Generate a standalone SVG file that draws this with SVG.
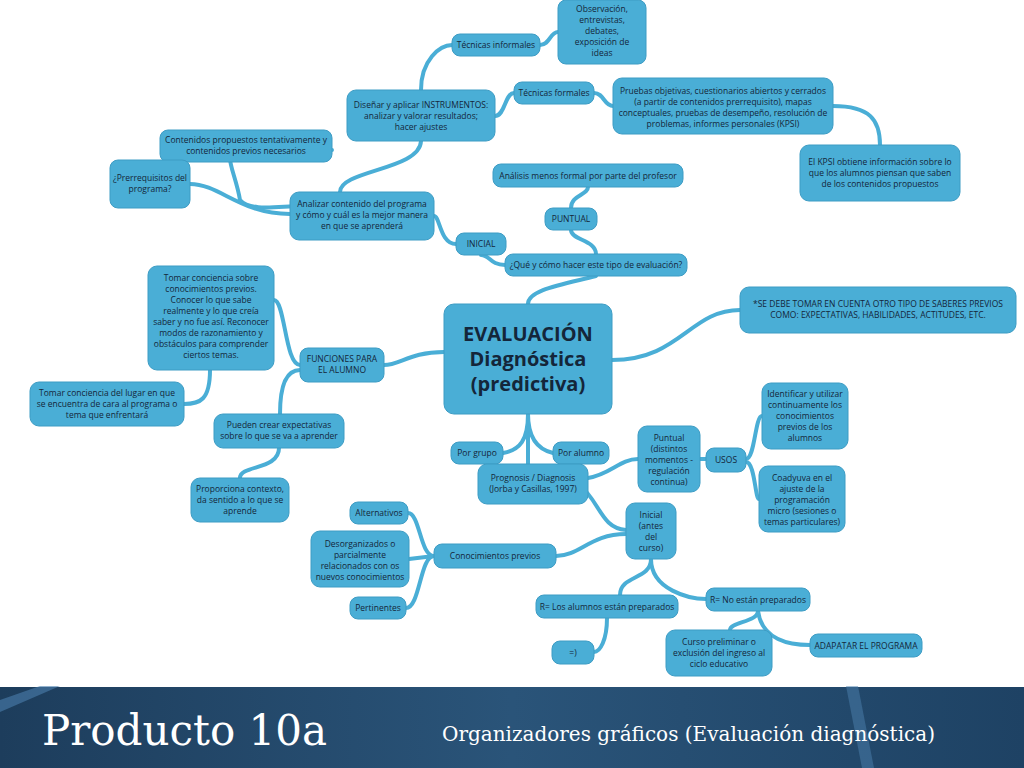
<svg xmlns="http://www.w3.org/2000/svg" width="1024" height="768" viewBox="0 0 1024 768">
<defs>
<style>
.n{fill:#4aaed6;stroke:#3d9cc4;stroke-width:1}
.t{font-family:"Open Sans","Liberation Sans",sans-serif;font-size:8.5px;fill:#14263a;text-anchor:middle}
.c path{fill:none;stroke:#4aaed6;stroke-width:4;stroke-linecap:round}
</style>
<linearGradient id="bg" x1="0" y1="0" x2="1" y2="0">
<stop offset="0" stop-color="#1d3d5c"/><stop offset="0.5" stop-color="#2a5479"/><stop offset="1" stop-color="#1e4264"/>
</linearGradient>
</defs>
<rect width="1024" height="768" fill="#ffffff"/>
<g class="c">
<path d="M444,352 C410,352 400,365 384,365"/>
<path d="M528,304 C528,290 560,285 596,276"/>
<path d="M596,254 C596,240 571,240 571,230"/>
<path d="M571,208 C571,195 588,195 588,187"/>
<path d="M505,265 C490,265 490,255 481,255"/>
<path d="M456,244 C440,244 440,216 434,216"/>
<path d="M340,192 C340,170 420,170 421,141"/>
<path d="M300,206 C280,206 250,212 240,200 C235,170 220,150 240,150 L332,150"/>
<path d="M290,214 C240,214 220,184 190,184"/>
<path d="M421,90 C421,60 440,45 452,45"/>
<path d="M540,45 C550,45 550,32 558,32"/>
<path d="M495,116 C505,116 505,93 514,93"/>
<path d="M594,93 C604,93 604,106 613,106"/>
<path d="M833,106 C870,106 880,120 880,145"/>
<path d="M612,360 C680,360 690,310 740,310"/>
<path d="M300,365 C285,365 285,300 274,300"/>
<path d="M210,370 C210,400 200,404 184,404"/>
<path d="M300,370 C285,370 280,390 280,414"/>
<path d="M279,448 C279,470 240,465 240,478"/>
<path d="M528,414 C528,440 520,450 503,453"/>
<path d="M528,414 L528,464"/>
<path d="M528,414 C528,440 540,450 553,453"/>
<path d="M588,478 C610,475 620,459 638,459"/>
<path d="M700,459 L706,459"/>
<path d="M746,459 C755,459 755,416 762,416"/>
<path d="M746,462 C755,462 755,499 759,499"/>
<path d="M578,484 C600,500 600,528 626,530"/>
<path d="M626,534 C590,534 580,556 556,556"/>
<path d="M434,556 C420,556 420,513 408,513"/>
<path d="M434,556 L409,559"/>
<path d="M434,556 C420,556 420,608 406,608"/>
<path d="M651,559 C651,580 620,575 620,595"/>
<path d="M651,559 C651,590 690,599 706,599"/>
<path d="M607,618 C607,640 600,652 594,652"/>
<path d="M758,611 C758,622 730,622 730,630"/>
<path d="M758,611 C762,640 790,645 810,645"/>
</g>
<g id="obs"><rect class="n" x="558" y="0" width="88" height="64" rx="8"/><text class="t" x="602" y="12">Observación,<tspan x="602" dy="11">entrevistas,</tspan><tspan x="602" dy="11">debates,</tspan><tspan x="602" dy="11">exposición de</tspan><tspan x="602" dy="11">ideas</tspan></text></g>
<g id="tinf"><rect class="n" x="452" y="34" width="88" height="22" rx="8"/><text class="t" x="496" y="48">Técnicas informales</text></g>
<g id="tform"><rect class="n" x="514" y="82" width="80" height="22" rx="8"/><text class="t" x="554" y="96">Técnicas formales</text></g>
<g id="pruebas"><rect class="n" x="613" y="78" width="220" height="56" rx="9"/><text class="t" x="723" y="94">Pruebas objetivas, cuestionarios abiertos y cerrados<tspan x="723" dy="11">(a partir de contenidos prerrequisito), mapas</tspan><tspan x="723" dy="11">conceptuales, pruebas de desempeño, resolución de</tspan><tspan x="723" dy="11">problemas, informes personales (KPSI)</tspan></text></g>
<g id="kpsi"><rect class="n" x="800" y="145" width="160" height="56" rx="9"/><text class="t" x="880" y="165">El KPSI obtiene información sobre lo<tspan x="880" dy="11">que los alumnos piensan que saben</tspan><tspan x="880" dy="11">de los contenidos propuestos</tspan></text></g>
<g id="instr"><rect class="n" x="347" y="90" width="148" height="51" rx="9"/><text class="t" x="421" y="108">Diseñar y aplicar INSTRUMENTOS:<tspan x="421" dy="11">analizar y valorar resultados;</tspan><tspan x="421" dy="11">hacer ajustes</tspan></text></g>
<g id="contenidos"><rect class="n" x="160" y="130" width="172" height="32" rx="8"/><text class="t" x="246" y="143">Contenidos propuestos tentativamente y<tspan x="246" dy="11">contenidos previos necesarios</tspan></text></g>
<g id="prereq"><rect class="n" x="110" y="160" width="80" height="48" rx="8"/><text class="t" x="150" y="181">¿Prerrequisitos del<tspan x="150" dy="11">programa?</tspan></text></g>
<g id="analizar"><rect class="n" x="290" y="192" width="144" height="48" rx="9"/><text class="t" x="362" y="207">Analizar contenido del programa<tspan x="362" dy="11">y cómo y cuál es la mejor manera</tspan><tspan x="362" dy="11">en que se aprenderá</tspan></text></g>
<g id="analisis"><rect class="n" x="493" y="164" width="190" height="23" rx="8"/><text class="t" x="588" y="179">Análisis menos formal por parte del profesor</text></g>
<g id="puntual"><rect class="n" x="545" y="208" width="52" height="22" rx="8"/><text class="t" x="571" y="222">PUNTUAL</text></g>
<g id="inicial"><rect class="n" x="456" y="233" width="50" height="22" rx="8"/><text class="t" x="481" y="247">INICIAL</text></g>
<g id="que"><rect class="n" x="505" y="254" width="182" height="22" rx="8"/><text class="t" x="596" y="268">¿Qué y cómo hacer este tipo de evaluación?</text></g>
<g id="eval"><rect class="n" x="444" y="304" width="168" height="110" rx="10"/><text class="t" x="528" y="341" style="font-size:20px;font-weight:bold">EVALUACIÓN<tspan x="528" dy="25">Diagnóstica</tspan><tspan x="528" dy="25">(predictiva)</tspan></text></g>
<g id="sedebe"><rect class="n" x="740" y="287" width="276" height="46" rx="9"/><text class="t" x="878" y="307">*SE DEBE TOMAR EN CUENTA OTRO TIPO DE SABERES PREVIOS<tspan x="878" dy="11">COMO: EXPECTATIVAS, HABILIDADES, ACTITUDES, ETC.</tspan></text></g>
<g id="tomar"><rect class="n" x="148" y="266" width="126" height="104" rx="9"/><text class="t" x="211" y="281">Tomar conciencia sobre<tspan x="211" dy="11">conocimientos previos.</tspan><tspan x="211" dy="11">Conocer lo que sabe</tspan><tspan x="211" dy="11">realmente y lo que creía</tspan><tspan x="211" dy="11">saber y no fue así. Reconocer</tspan><tspan x="211" dy="11">modos de razonamiento y</tspan><tspan x="211" dy="11">obstáculos para comprender</tspan><tspan x="211" dy="11">ciertos temas.</tspan></text></g>
<g id="funciones"><rect class="n" x="300" y="348" width="84" height="34" rx="8"/><text class="t" x="342" y="362">FUNCIONES PARA<tspan x="342" dy="11">EL ALUMNO</tspan></text></g>
<g id="lugar"><rect class="n" x="30" y="382" width="154" height="44" rx="9"/><text class="t" x="107" y="396">Tomar conciencia del lugar en que<tspan x="107" dy="11">se encuentra de cara al programa o</tspan><tspan x="107" dy="11">tema que enfrentará</tspan></text></g>
<g id="pueden"><rect class="n" x="214" y="414" width="130" height="34" rx="9"/><text class="t" x="279" y="428">Pueden crear expectativas<tspan x="279" dy="11">sobre lo que se va a aprender</tspan></text></g>
<g id="proporciona"><rect class="n" x="191" y="478" width="98" height="44" rx="9"/><text class="t" x="240" y="492">Proporciona contexto,<tspan x="240" dy="11">da sentido a lo que se</tspan><tspan x="240" dy="11">aprende</tspan></text></g>
<g id="porgrupo"><rect class="n" x="451" y="442" width="52" height="22" rx="8"/><text class="t" x="477" y="456">Por grupo</text></g>
<g id="poralumno"><rect class="n" x="553" y="442" width="56" height="22" rx="8"/><text class="t" x="581" y="456">Por alumno</text></g>
<g id="prognosis"><rect class="n" x="478" y="464" width="110" height="40" rx="9"/><text class="t" x="533" y="481">Prognosis / Diagnosis<tspan x="533" dy="11">(Jorba y Casillas, 1997)</tspan></text></g>
<g id="puntual2"><rect class="n" x="638" y="426" width="62" height="66" rx="9"/><text class="t" x="669" y="441">Puntual<tspan x="669" dy="11">(distintos</tspan><tspan x="669" dy="11">momentos -</tspan><tspan x="669" dy="11">regulación</tspan><tspan x="669" dy="11">continua)</tspan></text></g>
<g id="usos"><rect class="n" x="706" y="448" width="40" height="24" rx="8"/><text class="t" x="726" y="463">USOS</text></g>
<g id="identificar"><rect class="n" x="762" y="383" width="86" height="66" rx="9"/><text class="t" x="805" y="397">Identificar y utilizar<tspan x="805" dy="11">continuamente los</tspan><tspan x="805" dy="11">conocimientos</tspan><tspan x="805" dy="11">previos de los</tspan><tspan x="805" dy="11">alumnos</tspan></text></g>
<g id="coadyuva"><rect class="n" x="759" y="466" width="86" height="66" rx="9"/><text class="t" x="802" y="481">Coadyuva en el<tspan x="802" dy="11">ajuste de la</tspan><tspan x="802" dy="11">programación</tspan><tspan x="802" dy="11">micro (sesiones o</tspan><tspan x="802" dy="11">temas particulares)</tspan></text></g>
<g id="inicial2"><rect class="n" x="626" y="503" width="50" height="56" rx="9"/><text class="t" x="651" y="518">Inicial<tspan x="651" dy="11">(antes</tspan><tspan x="651" dy="11">del</tspan><tspan x="651" dy="11">curso)</tspan></text></g>
<g id="alternativos"><rect class="n" x="350" y="502" width="58" height="22" rx="8"/><text class="t" x="379" y="516">Alternativos</text></g>
<g id="desorg"><rect class="n" x="311" y="531" width="98" height="56" rx="9"/><text class="t" x="360" y="547">Desorganizados o<tspan x="360" dy="11">parcialmente</tspan><tspan x="360" dy="11">relacionados con os</tspan><tspan x="360" dy="11">nuevos conocimientos</tspan></text></g>
<g id="conoc"><rect class="n" x="434" y="544" width="122" height="24" rx="8"/><text class="t" x="495" y="559">Conocimientos previos</text></g>
<g id="pertinentes"><rect class="n" x="350" y="597" width="56" height="22" rx="8"/><text class="t" x="378" y="611">Pertinentes</text></g>
<g id="rlos"><rect class="n" x="536" y="595" width="142" height="23" rx="8"/><text class="t" x="607" y="610">R= Los alumnos están preparados</text></g>
<g id="rno"><rect class="n" x="706" y="588" width="104" height="23" rx="8"/><text class="t" x="758" y="603">R= No están preparados</text></g>
<g id="n"><rect class="n" x="552" y="641" width="42" height="23" rx="8"/><text class="t" x="573" y="656">=)</text></g>
<g id="curso"><rect class="n" x="666" y="630" width="106" height="46" rx="9"/><text class="t" x="719" y="645">Curso preliminar o<tspan x="719" dy="11">exclusión del ingreso al</tspan><tspan x="719" dy="11">ciclo educativo</tspan></text></g>
<g id="adapatar"><rect class="n" x="810" y="634" width="112" height="23" rx="8"/><text class="t" x="866" y="649">ADAPATAR EL PROGRAMA</text></g>
<rect x="0" y="686" width="1024" height="82" fill="url(#bg)"/>
<line x1="0" y1="686" x2="1024" y2="686" stroke="#ffffff" stroke-width="2"/>
<path d="M0,700 L40,686 L60,686 L0,712 Z" fill="#4b7fae" opacity="0.6"/>
<path d="M846,686 L858,686 L874,768 L862,768 Z" fill="#4b7fae" opacity="0.5"/>
<text x="42" y="745" font-family="'DejaVu Serif','Liberation Serif',serif" font-size="42" fill="#ffffff">Producto 10a</text>
<text x="442" y="741" font-family="'DejaVu Serif','Liberation Serif',serif" font-size="20" fill="#ffffff">Organizadores gráficos (Evaluación diagnóstica)</text>
</svg>
